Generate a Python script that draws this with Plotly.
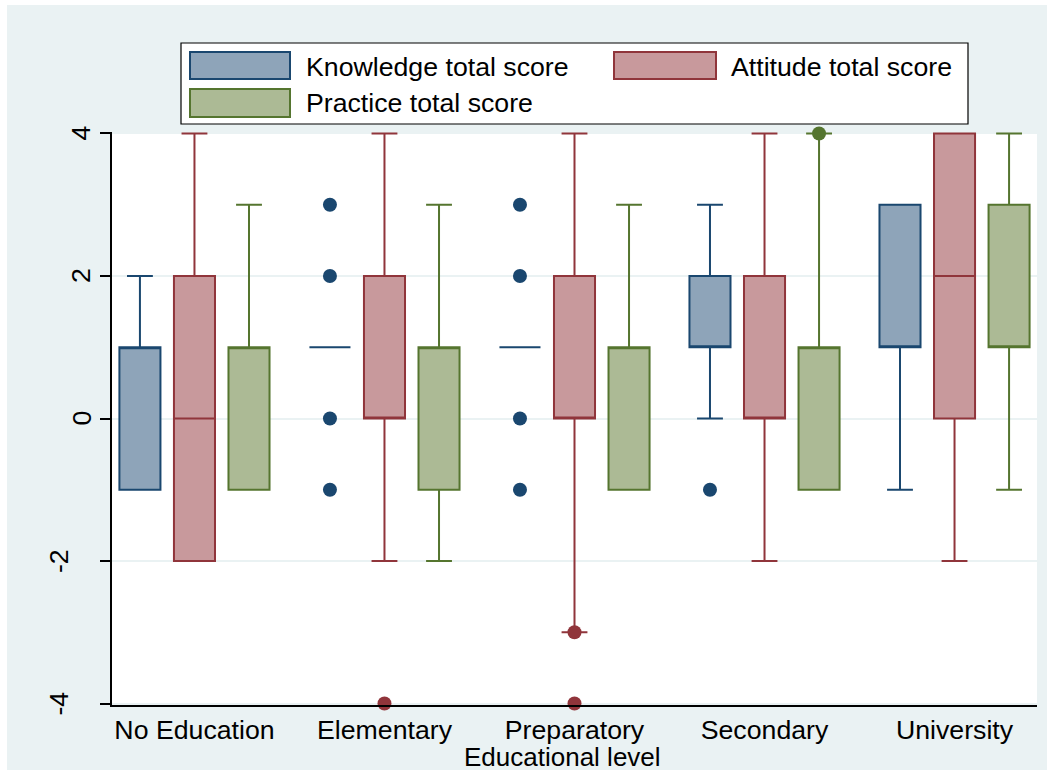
import plotly.graph_objects as go

# ---- data -------------------------------------------------------------
categories = ["No Education", "Elementary", "Preparatory", "Secondary", "University"]
series_names = ["Knowledge total score", "Attitude total score", "Practice total score"]
y_ticks = [-4, -2, 0, 2, 4]
y_tick_labels = ["-4", "-2", "0", "2", "4"]

# box statistics per educational level
knowledge_q1 = [-1, 1, 1, 1, 1]
knowledge_median = [1, 1, 1, 1, 1]
knowledge_q3 = [1, 1, 1, 2, 3]
knowledge_low = [-1, 1, 1, 0, -1]
knowledge_high = [2, 1, 1, 3, 3]

attitude_q1 = [-2, 0, 0, 0, 0]
attitude_median = [0, 0, 0, 0, 2]
attitude_q3 = [2, 2, 2, 2, 4]
attitude_low = [-2, -2, -3, -2, -2]
attitude_high = [4, 4, 4, 4, 4]

practice_q1 = [-1, -1, -1, -1, 1]
practice_median = [1, 1, 1, 1, 1]
practice_q3 = [1, 1, 1, 1, 3]
practice_low = [-1, -2, -1, -1, -1]
practice_high = [3, 3, 3, 4, 4]

# outside values: (level index, score)
knowledge_outliers = [(1, 3), (1, 2), (1, 0), (1, -1),
                      (2, 3), (2, 2), (2, 0), (2, -1),
                      (3, -1)]
attitude_outliers = [(1, -4), (2, -3), (2, -4)]
practice_outliers = [(3, 4)]

# ---- styling ----------------------------------------------------------
BG = "#EAF2F3"
FONT = "Liberation Sans, Arial, sans-serif"
FS = 26.7
line_colors = ["#1A476F", "#90353B", "#55752F"]
fill_colors = ["#8EA4B9", "#C8999C", "#ACBA95"]
offsets = [-0.287, 0.0, 0.287]
BOX_W = 0.216

# plot area in pixels
W, H = 1052, 771
ML, MR, MT, MB = 112, 15, 132, 66
PW, PH = W - ML - MR, H - MT - MB


def px_x(px):
    return (px - ML) / PW


def px_y(py):
    return (H - MB - py) / PH


stats = [
    (knowledge_q1, knowledge_median, knowledge_q3, knowledge_low, knowledge_high, knowledge_outliers),
    (attitude_q1, attitude_median, attitude_q3, attitude_low, attitude_high, attitude_outliers),
    (practice_q1, practice_median, practice_q3, practice_low, practice_high, practice_outliers),
]

fig = go.Figure()

for k, (q1, med, q3, lo, hi, outs) in enumerate(stats):
    xs = [i + offsets[k] for i in range(len(categories))]
    fig.add_trace(go.Box(
        x=xs, q1=q1, median=med, q3=q3, lowerfence=lo, upperfence=hi,
        width=BOX_W, whiskerwidth=0.63,
        fillcolor=fill_colors[k], line=dict(color=line_colors[k], width=2),
        boxpoints=False, showlegend=False, name=series_names[k],
    ))
    if outs:
        fig.add_trace(go.Scatter(
            x=[g + offsets[k] for g, _ in outs], y=[v for _, v in outs],
            mode="markers", cliponaxis=False, showlegend=False,
            marker=dict(size=14, color=line_colors[k]),
        ))

shapes = []
# white outer frame
for x0, y0, x1, y1 in [(0, 0, 7, H), (1047, 0, W, H), (0, 0, W, 5), (0, 770, W, H)]:
    shapes.append(dict(type="rect", xref="paper", yref="paper", layer="above",
                       x0=px_x(x0), x1=px_x(x1), y0=px_y(y1), y1=px_y(y0),
                       fillcolor="white", line=dict(width=0)))

# legend box and swatches
shapes.append(dict(type="rect", xref="paper", yref="paper",
                   x0=px_x(181), x1=px_x(968), y0=px_y(124), y1=px_y(43),
                   fillcolor="white", line=dict(color="black", width=1.2)))
swatches = [(190, 290, 52, 79), (614, 716, 52, 79), (190, 290, 89, 117)]
text_pos = [(304, 67), (729, 67), (304, 103)]
annotations = []
for k in range(3):
    x0, x1, y0, y1 = swatches[k]
    shapes.append(dict(type="rect", xref="paper", yref="paper",
                       x0=px_x(x0), x1=px_x(x1), y0=px_y(y1), y1=px_y(y0),
                       fillcolor=fill_colors[k], line=dict(color=line_colors[k], width=2)))
    tx, ty = text_pos[k]
    annotations.append(dict(xref="paper", yref="paper", x=px_x(tx), y=px_y(ty),
                            xanchor="left", yanchor="middle", showarrow=False,
                            text=series_names[k], font=dict(size=FS, color="black", family=FONT)))

# rotated y tick labels
for v, lab in zip(y_ticks, y_tick_labels):
    cx = 59 if v < 0 else 81
    annotations.append(dict(xref="paper", yref="y", x=px_x(cx), y=v,
                            xanchor="center", yanchor="middle", showarrow=False,
                            textangle=-90, text=lab,
                            font=dict(size=FS, color="black", family=FONT)))

annotations.append(dict(xref="paper", yref="paper", x=px_x(562), y=px_y(757),
                        xanchor="center", yanchor="middle", showarrow=False,
                        text="Educational level", font=dict(size=26, color="black", family=FONT)))

fig.update_layout(
    width=W, height=H,
    margin=dict(l=ML, r=MR, t=MT, b=MB, pad=0),
    paper_bgcolor=BG, plot_bgcolor="white",
    boxmode="overlay",
    font=dict(family=FONT, size=FS, color="black"),
    shapes=shapes, annotations=annotations,
    showlegend=False,
    xaxis=dict(
        range=[-0.434, 4.434], tickvals=list(range(len(categories))), ticktext=categories,
        showgrid=False, zeroline=False, showline=True, linecolor="black", linewidth=1.5,
        ticks="", ticklabelstandoff=0, tickfont=dict(size=FS, family=FONT),
    ),
    yaxis=dict(
        range=[-4.02, 4.02], tickvals=y_ticks, showticklabels=False,
        showgrid=True, gridcolor=BG, gridwidth=2, zeroline=False,
        showline=True, linecolor="black", linewidth=1.5,
        ticks="outside", ticklen=10, tickwidth=1.5, tickcolor="black",
    ),
)

fig.write_html("out.html")
